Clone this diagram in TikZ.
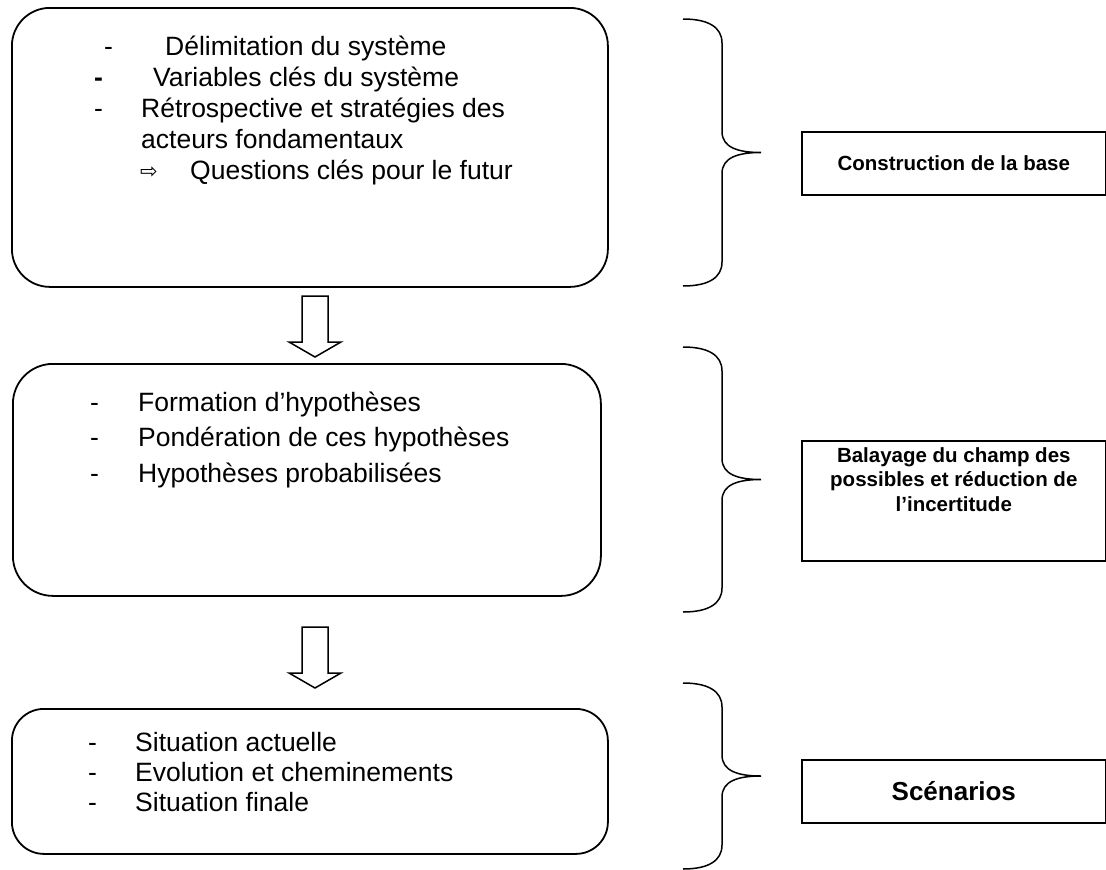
\documentclass[tikz,border=0pt]{standalone}
\usepackage{fontspec}
\setmainfont{Liberation Sans}
\newfontfamily\symbfont{DejaVu Sans}

\begin{document}
\begin{tikzpicture}[x=1pt, y=-1pt,
  etape/.style={draw, line width=1.8pt, rounded corners=38pt, anchor=north west, inner sep=0pt},
  bilan/.style={draw, line width=1.6pt, anchor=north west, inner sep=0pt},
  ligne/.style={anchor=base west, inner sep=0pt, font=\fontsize{26.5}{31}\selectfont},
  titre/.style={inner sep=0pt, align=center, font=\bfseries\fontsize{20.5}{24.5}\selectfont}]
\useasboundingbox (0,0) rectangle (1106,870);

% les trois etapes
\node[etape, minimum width=596pt, minimum height=279pt] (base) at (11,7) {};
\node[etape, minimum width=588pt, minimum height=232pt, rounded corners=40pt] (hypo) at (12,363) {};
\node[etape, minimum width=596pt, minimum height=145pt, rounded corners=32pt] (scen) at (11,708) {};

\node[ligne] (d1) at (104,55) {-};
\node[ligne] (t1) at (165,55) {Délimitation du système};
\node[ligne] (d2) at (94,86) {\textbf{-}};
\node[ligne] (t2) at (153,86) {Variables clés du système};
\node[ligne] (d3) at (94,117) {-};
\node[ligne] (t3) at (141,117) {Rétrospective et stratégies des};
\node[ligne] (t4) at (141,148) {acteurs fondamentaux};
\node[ligne] (q) at (140,178) {\symbfont\fontsize{21}{21}\selectfont ⇨};
\node[ligne] (t5) at (190,179) {Questions clés pour le futur};

\foreach \t [count=\i] in {Formation d’hypothèses, Pondération de ces hypothèses, Hypothèses probabilisées}
{\node[ligne] (hd\i) at (90,375.5+35.5*\i) {-};
 \node[ligne] (ht\i) at (138,375.5+35.5*\i) {\t};}

\foreach \t [count=\i] in {Situation actuelle, Evolution et cheminements, Situation finale}
{\node[ligne] (sd\i) at (88,721+30*\i) {-};
 \node[ligne] (st\i) at (135,721+30*\i) {\t};}

% fleches creuses
\foreach \x/\ya/\yb in {315/296/357, 315/627/688}
{\draw[line width=1.5pt, line join=miter] (\x-13,\ya) -- (\x-13,\yb-15) -- (\x-26,\yb-15) -- (\x,\yb)
  -- (\x+26,\yb-15) -- (\x+13,\yb-15) -- (\x+13,\ya) -- cycle;}

% accolades
\foreach \ya/\yb in {19/286, 347/612, 683/869}
{\draw[line width=1.5pt] (683,\ya) .. controls (708,\ya) and (722,\ya+8) .. (722,\ya+24)
  -- (722,{(\ya+\yb)/2-21}) .. controls (722,{(\ya+\yb)/2-5}) and (738,{(\ya+\yb)/2}) .. (761,{(\ya+\yb)/2})
  .. controls (738,{(\ya+\yb)/2}) and (722,{(\ya+\yb)/2+5}) .. (722,{(\ya+\yb)/2+21})
  -- (722,\yb-24) .. controls (722,\yb-8) and (708,\yb) .. (683,\yb);}

% encadres de droite
\node[bilan, minimum width=304pt, minimum height=63pt, titre] (construction) at (801,131) {Construction de la base};
\node[bilan, minimum width=304pt, minimum height=120pt] (balayage) at (801,440) {};
\node[titre, anchor=north] (balayage-txt) at ([yshift=-7pt]balayage.north) {Balayage du champ des\\possibles et réduction de\\l’incertitude};
\node[bilan, minimum width=304pt, minimum height=63pt, titre, font=\bfseries\fontsize{26}{30}\selectfont] (scenarios) at (801,759) {Scénarios};
\end{tikzpicture}
\end{document}
